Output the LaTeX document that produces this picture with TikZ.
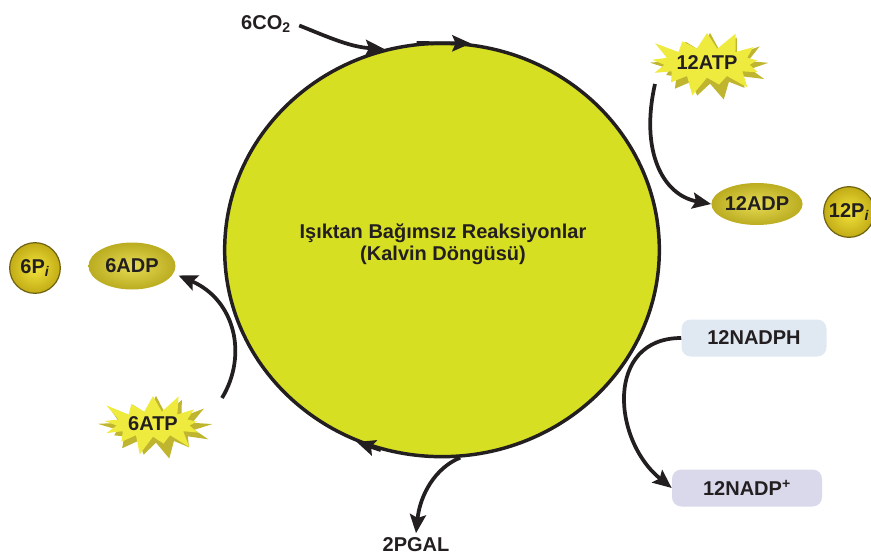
\documentclass[tikz,border=0pt]{standalone}
\usepackage{fontspec}
\setmainfont{Liberation Sans}
\usetikzlibrary{shapes.geometric, shapes.symbols, arrows.meta}
\definecolor{ringyellow}{HTML}{D7DF23}
\definecolor{staryellow}{HTML}{EFEB3E}
\definecolor{starshade}{HTML}{BFB52E}
\definecolor{adpinner}{HTML}{E6DC55}
\definecolor{adpouter}{HTML}{BBAC20}
\definecolor{ballinner}{HTML}{F2E33C}
\definecolor{ballouter}{HTML}{C2AC16}
\definecolor{ballrim}{HTML}{6E6210}
\definecolor{nadphblue}{HTML}{E0E8F2}
\definecolor{nadpblue}{HTML}{D9D9EB}
\definecolor{inkgray}{HTML}{231F20}

\begin{document}
\begin{tikzpicture}[x=0.75pt, y=-0.75pt, font=\fontsize{15}{16.5}\selectfont\bfseries, text=inkgray]
    % Define styles
    \tikzstyle{calvinring} = [ellipse, draw=inkgray, line width=2.6pt, fill=ringyellow, inner sep=0pt, minimum width=326pt, minimum height=310pt]
    \tikzstyle{burst} = [starburst, starburst points=13, starburst point height=16pt, fill=staryellow, inner sep=0pt]
    \tikzstyle{burstshade} = [burst, fill=starshade, random starburst=37]
    \tikzstyle{molecule} = [ellipse, shading=radial, inner color=adpinner, outer color=adpouter, inner sep=0pt]
    \tikzstyle{phosphate} = [circle, shading=radial, inner color=ballinner, outer color=ballouter, draw=ballrim, line width=0.9pt, minimum size=38pt, inner sep=0pt]
    \tikzstyle{carrier} = [rectangle, rounded corners=7pt, minimum height=27.75pt, inner sep=0pt]
    \tikzstyle{flow} = [draw=inkgray, line width=2.8pt, -{Stealth[length=14pt, width=12pt, inset=2.5pt]}]

    \useasboundingbox (0,0) rectangle (871,557);
    \clip (0,0) rectangle (871,557);

    % Nodes
    \node (calvin) [calvinring] at (442,250) {};
    \node (title) [align=center] at (443,244) {Işıktan Bağımsız Reaksiyonlar\\(Kalvin Döngüsü)};
    \node (co2) at (266,24) {6CO\textsubscript{2}};
    \node (atp12shade) [burstshade, minimum width=93pt, minimum height=57pt] at (710,67) {};
    \node (atp12) [burst, minimum width=90pt, minimum height=54pt] at (707,63) {12ATP};
    \node (adp12) [molecule, minimum width=66.75pt, minimum height=31.5pt] at (757,204) {12ADP};
    \node (pi12) [phosphate] at (849,212) {12P\textsubscript{\itshape i}};
    \node (pi6) [phosphate] at (35,268) {6P\textsubscript{\itshape i}};
    \node (adp6) [molecule, minimum width=65.25pt, minimum height=35.25pt] at (132,266) {6ADP};
    \node (atp6shade) [burstshade, minimum width=90pt, minimum height=54pt] at (156,428) {};
    \node (atp6) [burst, minimum width=87pt, minimum height=51pt] at (153,424) {6ATP};
    \node (nadph) [carrier, fill=nadphblue, minimum width=108.75pt] at (754,338) {12NADPH};
    \node (nadp) [carrier, fill=nadpblue, minimum width=112.5pt] at (747,488) {12NADP\textsuperscript{+}};
    \node (pgal) at (416,545) {2PGAL};
    \coordinate (atp12out) at (655,84);
    \coordinate (atp6out) at (222,398);

    % Arrows
    \draw [flow] (calvin.97) -- (calvin.82.5);
    \draw [flow] (calvin.253) -- (calvin.246);
    \draw [flow, shorten <=3pt] (co2.east) .. controls (328,37) and (350,47) .. (calvin.106);
    \draw [flow] (atp12out) .. controls (640,150) and (662,195) .. (adp12.west);
    \draw [flow, shorten >=4pt] (atp6out) .. controls (248,355) and (235,300) .. (adp6.-10);
    \draw [flow] (nadph.west) .. controls (605,338) and (612,440) .. (nadp.west);
    \draw [flow] (calvin.-85) .. controls (435,468) and (420,495) .. (pgal.north);
\end{tikzpicture}
\end{document}
